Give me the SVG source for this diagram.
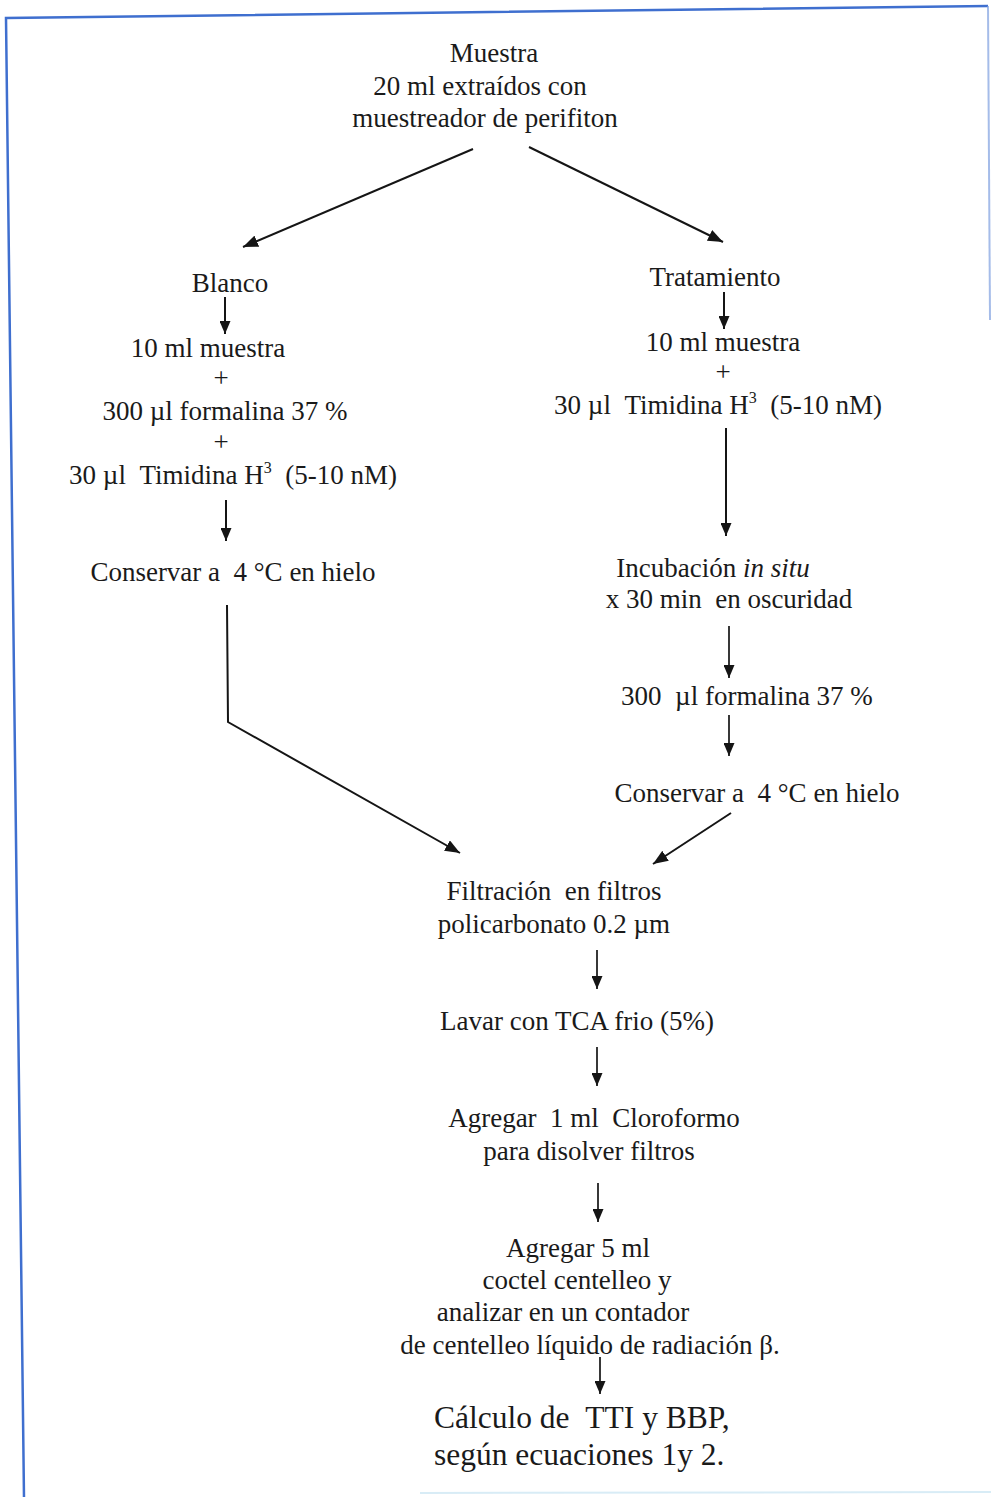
<svg xmlns="http://www.w3.org/2000/svg" width="991" height="1497" viewBox="0 0 991 1497">
  <style>
    text { font-family: "Liberation Serif", "Times New Roman", serif; font-size: 27px; fill: #1a1a1a; white-space: pre; }
    .c { text-anchor: middle; }
    .big { font-size: 31.5px; }
    .sup { font-size: 16px; }
    .it { font-style: italic; }
    .frame { stroke: #3f6fcf; stroke-width: 2.5; fill: none; }
    .edge { stroke: #151515; stroke-width: 2; fill: none; }
    .thin { stroke: #151515; stroke-width: 1.7; fill: none; }
  </style>
  <defs>
    <marker id="head" viewBox="0 0 13 11" refX="13" refY="5.5" markerWidth="13" markerHeight="11" markerUnits="userSpaceOnUse" orient="auto">
      <path d="M0,0 L13,5.5 L0,11 z" fill="#151515"/>
    </marker>
    <marker id="headL" viewBox="0 0 15 12" refX="15" refY="6" markerWidth="15" markerHeight="12" markerUnits="userSpaceOnUse" orient="auto">
      <path d="M0,0 L15,6 L0,12 z" fill="#151515"/>
    </marker>
  </defs>

  <!-- page frame -->
  <g id="frame">
    <path class="frame" d="M24,1497 L6,18 L988,6"/>
    <path d="M988,6 L990,320" stroke="#7f9fe0" stroke-width="2" fill="none" opacity="0.7"/>
    <path d="M420,1493 L991,1492" stroke="#d8ecf6" stroke-width="2" fill="none"/>
  </g>

  <!-- connectors -->
  <g id="connectors">
    <line class="edge" x1="473" y1="149" x2="243" y2="247" marker-end="url(#headL)"/>
    <line class="edge" x1="529" y1="147" x2="723" y2="242" marker-end="url(#headL)"/>
    <line class="edge" x1="225" y1="297" x2="225" y2="334" marker-end="url(#head)"/>
    <line class="edge" x1="226" y1="500" x2="226" y2="541" marker-end="url(#head)"/>
    <polyline class="edge" points="227,605 228,722 460,853" marker-end="url(#headL)"/>
    <line class="edge" x1="724" y1="292" x2="724" y2="329" marker-end="url(#head)"/>
    <line class="edge" x1="726" y1="428" x2="726" y2="536" marker-end="url(#head)"/>
    <line class="thin" x1="729" y1="626" x2="729" y2="678" marker-end="url(#head)"/>
    <line class="thin" x1="729" y1="715" x2="729" y2="756" marker-end="url(#head)"/>
    <line class="edge" x1="731" y1="813" x2="653" y2="864" marker-end="url(#headL)"/>
    <line class="thin" x1="597" y1="950" x2="597" y2="989" marker-end="url(#head)"/>
    <line class="thin" x1="597" y1="1047" x2="597" y2="1086" marker-end="url(#head)"/>
    <line class="thin" x1="598" y1="1183" x2="598" y2="1222" marker-end="url(#head)"/>
    <line class="thin" x1="600" y1="1357" x2="600" y2="1394" marker-end="url(#head)"/>
  </g>

  <!-- sample -->
  <g id="muestra">
    <text class="c" x="494" y="62">Muestra</text>
    <text class="c" x="480" y="95">20 ml extraídos con</text>
    <text class="c" x="485" y="127">muestreador de perifiton</text>
  </g>

  <!-- blank branch -->
  <g id="blanco">
    <text class="c" x="230" y="292">Blanco</text>
  </g>
  <g id="blanco-mezcla">
    <text class="c" x="208" y="357">10 ml muestra</text>
    <text class="c" x="221" y="387">+</text>
    <text class="c" x="225" y="420">300 µl formalina 37 %</text>
    <text class="c" x="221" y="451">+</text>
    <text class="c" x="233" y="484">30 µl &#160;Timidina H<tspan class="sup" dy="-11">3</tspan><tspan dy="11"> &#160;(5-10 nM)</tspan></text>
  </g>
  <g id="blanco-conservar">
    <text class="c" x="233" y="581">Conservar a &#160;4 °C en hielo</text>
  </g>

  <!-- treatment branch -->
  <g id="tratamiento">
    <text class="c" x="715" y="286">Tratamiento</text>
  </g>
  <g id="tratamiento-mezcla">
    <text class="c" x="723" y="351">10 ml muestra</text>
    <text class="c" x="723" y="381">+</text>
    <text class="c" x="718" y="414">30 µl &#160;Timidina H<tspan class="sup" dy="-11">3</tspan><tspan dy="11"> &#160;(5-10 nM)</tspan></text>
  </g>
  <g id="incubacion">
    <text class="c" x="713" y="577">Incubación <tspan class="it">in situ</tspan></text>
    <text class="c" x="729" y="608">x 30 min &#160;en oscuridad</text>
  </g>
  <g id="formalina">
    <text class="c" x="747" y="705">300 &#160;µl formalina 37 %</text>
  </g>
  <g id="tratamiento-conservar">
    <text class="c" x="757" y="802">Conservar a &#160;4 °C en hielo</text>
  </g>

  <!-- common steps -->
  <g id="filtracion">
    <text class="c" x="554" y="900">Filtración &#160;en filtros</text>
    <text class="c" x="554" y="933">policarbonato 0.2 µm</text>
  </g>
  <g id="lavar">
    <text class="c" x="577" y="1030">Lavar con TCA frio (5%)</text>
  </g>
  <g id="cloroformo">
    <text class="c" x="594" y="1127">Agregar &#160;1 ml &#160;Cloroformo</text>
    <text class="c" x="589" y="1160">para disolver filtros</text>
  </g>
  <g id="centelleo">
    <text class="c" x="578" y="1257">Agregar 5 ml</text>
    <text class="c" x="577" y="1289">coctel centelleo y</text>
    <text class="c" x="563" y="1321">analizar en un contador</text>
    <text class="c" x="590" y="1354">de centelleo líquido de radiación β.</text>
  </g>
  <g id="calculo">
    <text class="big" x="434" y="1428">Cálculo de &#160;TTI y BBP,</text>
    <text class="big" x="434" y="1465">según ecuaciones 1y 2.</text>
  </g>
</svg>
